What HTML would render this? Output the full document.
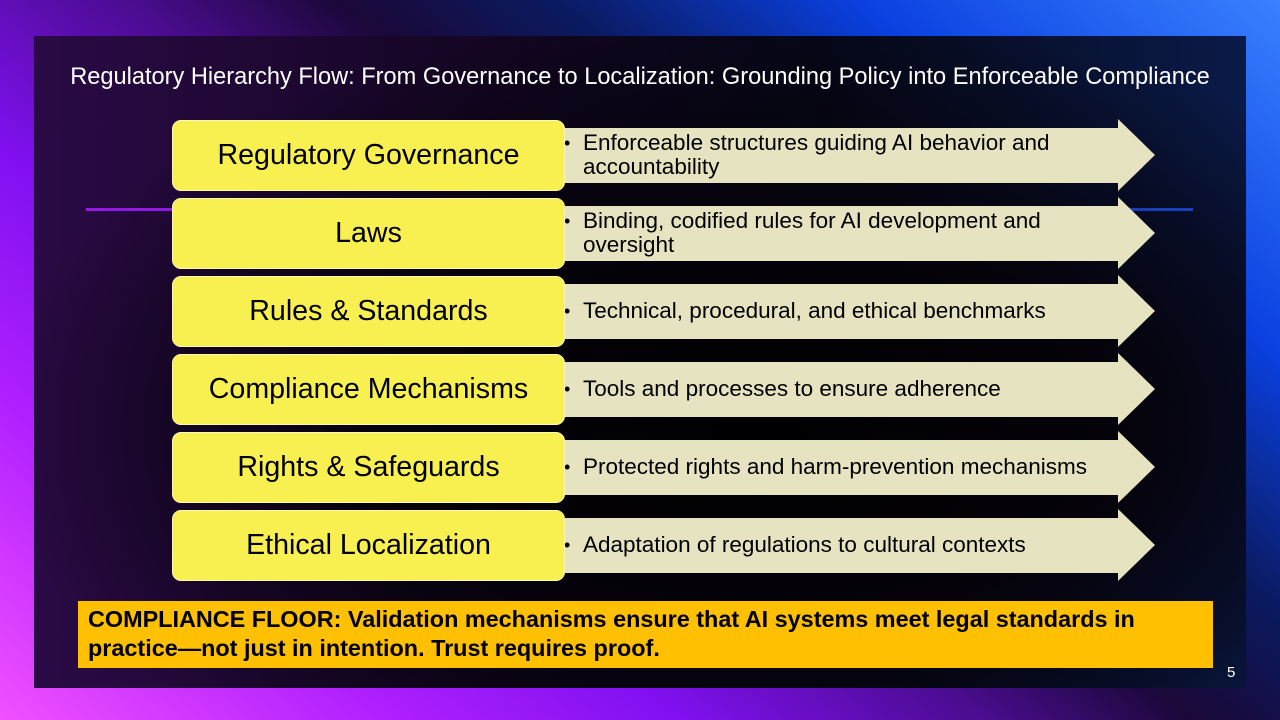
<!DOCTYPE html>
<html><head><meta charset="utf-8"><style>
*{margin:0;padding:0;box-sizing:border-box}
body{width:1280px;height:720px;overflow:hidden;font-family:"Liberation Sans",sans-serif;position:relative;
background:linear-gradient(40deg,#f050ff 0%,#b020ff 18%,#8010f0 32%,#4a0c90 46%,#1a0838 56%,#0a1a60 66%,#0a40e0 80%,#3a80ff 100%);}
#slide{position:absolute;left:34px;top:36px;width:1212px;height:652px;
background:radial-gradient(ellipse at 60% 60%,#000000 0%,#05020a 35%,rgba(0,0,0,0) 75%),linear-gradient(90deg,#2a0a45 0%,#120520 40%,#050818 65%,#0a1a48 100%);}
#title{position:absolute;left:34px;top:64px;width:1212px;text-align:center;color:#fff;font-size:23.6px;white-space:nowrap}
#line{position:absolute;left:86px;top:208px;width:1107px;height:3px;background:linear-gradient(90deg,#9a18e8,#5a18c0 40%,#1e2e90 80%,#1a40c0)}
.lbl{position:absolute;left:172px;width:393px;height:71px;background:#f8f050;border:1px solid #fff8b0;border-radius:9px;display:flex;align-items:center;justify-content:center;font-size:28.6px;color:#000;white-space:nowrap}
.arr{position:absolute;left:564px;width:592px;height:72px}
.arr svg{position:absolute;left:0;top:0}
.txt{position:absolute;left:0;top:8px;width:560px;height:56px;display:flex;align-items:center;padding-left:19px;font-size:22.5px;color:#000;line-height:24px}
.bul{position:absolute;left:0px;font-size:18px;color:#000}
#floor{position:absolute;left:78px;top:601px;width:1135px;height:67px;background:#fec000;padding:4px 10px;font-weight:bold;font-size:23.4px;line-height:29px;color:#000}
#pg{position:absolute;left:1227px;top:664px;color:#fff;font-size:15px}
</style></head><body>
<div id="slide"></div>
<div id="title">Regulatory Hierarchy Flow: From Governance to Localization: Grounding Policy into Enforceable Compliance</div>
<div id="line"></div>
<div id="rows"></div>
<div id="floor">COMPLIANCE FLOOR: Validation mechanisms ensure that AI systems meet legal standards in practice—not just in intention. Trust requires proof.</div>
<div id="pg">5</div>
<script>
const labels=["Regulatory Governance","Laws","Rules & Standards","Compliance Mechanisms","Rights & Safeguards","Ethical Localization"];
const descs=["Enforceable structures guiding AI behavior and accountability","Binding, codified rules for AI development and oversight","Technical, procedural, and ethical benchmarks","Tools and processes to ensure adherence","Protected rights and harm-prevention mechanisms","Adaptation of regulations to cultural contexts"];
const rows=document.getElementById('rows');
labels.forEach((l,i)=>{
  const top=120+i*78;
  const a=document.createElement('div');a.className='arr';a.style.top=(top-1)+'px';
  
  
  a.innerHTML='<svg width="592" height="72"><polygon points="0,9 554,9 554,0 591,36 554,72 554,64 0,64" fill="#e6e3c0"/></svg>';
  const t=document.createElement('div');t.className='txt';
  
  
  const s=document.createElement('span');s.textContent=descs[i];
  const bu=document.createElement('span');bu.className='bul';bu.textContent='•';
  const lines=descs[i].length>50?2:1;
  bu.style.top=(lines===2?4:16)+'px';
  t.appendChild(bu);t.appendChild(s);
  a.appendChild(t);rows.appendChild(a);
  const b=document.createElement('div');b.className='lbl';b.style.top=top+'px';b.textContent=l;
  
  
  rows.appendChild(b);
});
</script>
</body></html>
